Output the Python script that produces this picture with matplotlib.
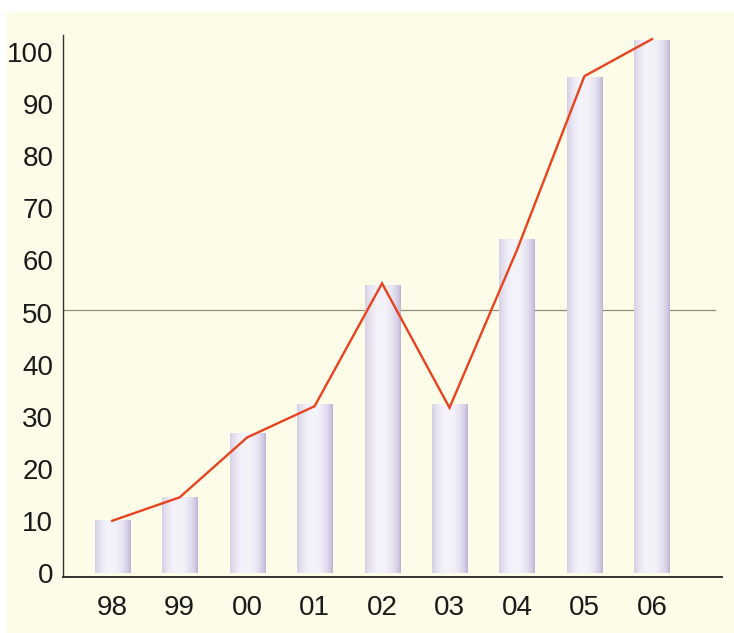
import numpy as np
import matplotlib.pyplot as plt
from matplotlib.patches import Rectangle
from matplotlib.colors import to_rgb

plt.rcParams['font.family'] = ['Liberation Sans', 'DejaVu Sans']

years = ['98', '99', '00', '01', '02', '03', '04', '05', '06']
bar_values = [10, 14.5, 26.7, 32.3, 55.3, 32.4, 64, 95.2, 102.3]
line_values = [10, 14.5, 26, 32, 55.6, 31.7, 62, 95.4, 102.5]
ref_level = 50.5
y_ticks = [0, 10, 20, 30, 40, 50, 60, 70, 80, 90, 100]

cream = '#fdfce8'
edge_col = np.array(to_rgb('#bab0d4'))
mid_col = np.array(to_rgb('#f5f3fa'))

fig = plt.figure(figsize=(7.34, 6.33), dpi=100, facecolor='white')
fig.patches.append(Rectangle((0.008, 0), 1, 0.981, transform=fig.transFigure,
                             facecolor=cream, edgecolor='none', zorder=-10))
ax = fig.add_axes([0.0858, 0.0885, 0.8979, 0.8562])
ax.set_facecolor('none')

x = np.arange(len(years))
w = 0.52

# reference line at ~50, behind the bars
ax.axhline(ref_level, xmin=0, xmax=0.99, color='#8d8d78', lw=0.9, zorder=1)

# cylinder-like bars: horizontal gradient
t = np.linspace(0, 1, 80)
prof = np.clip(1 - ((t - 0.45) / 0.55) ** 2, 0, 1) ** 0.7
grad = edge_col[None, :] + (mid_col - edge_col)[None, :] * prof[:, None]
grad = grad[None, :, :]
bars = ax.bar(x, bar_values, width=w, color='none', edgecolor='none', zorder=2)
for b in bars:
    ax.imshow(grad, extent=[b.get_x(), b.get_x() + b.get_width(), 0, b.get_height()],
              aspect='auto', zorder=2, interpolation='bilinear')

ax.plot(x, line_values, color='#e8431f', lw=1.7, zorder=3, solid_joinstyle='miter')

ax.set_xlim(-0.73, 9.04)
ax.set_ylim(-0.8, 103.3)
ax.set_xticks(x)
ax.set_xticklabels(years)
ax.set_yticks(y_ticks)
ax.set_yticklabels([str(v) for v in y_ticks])
ax.tick_params(axis='both', length=0, labelsize=20, colors='#1a1a1a')
ax.tick_params(axis='y', pad=7)
ax.tick_params(axis='x', pad=13)

for s in ['top', 'right']:
    ax.spines[s].set_visible(False)
ax.spines['left'].set_color('#333333')
ax.spines['left'].set_linewidth(1.0)
ax.spines['bottom'].set_color('#333333')
ax.spines['bottom'].set_linewidth(1.4)

fig.savefig('out.png', dpi=100)
